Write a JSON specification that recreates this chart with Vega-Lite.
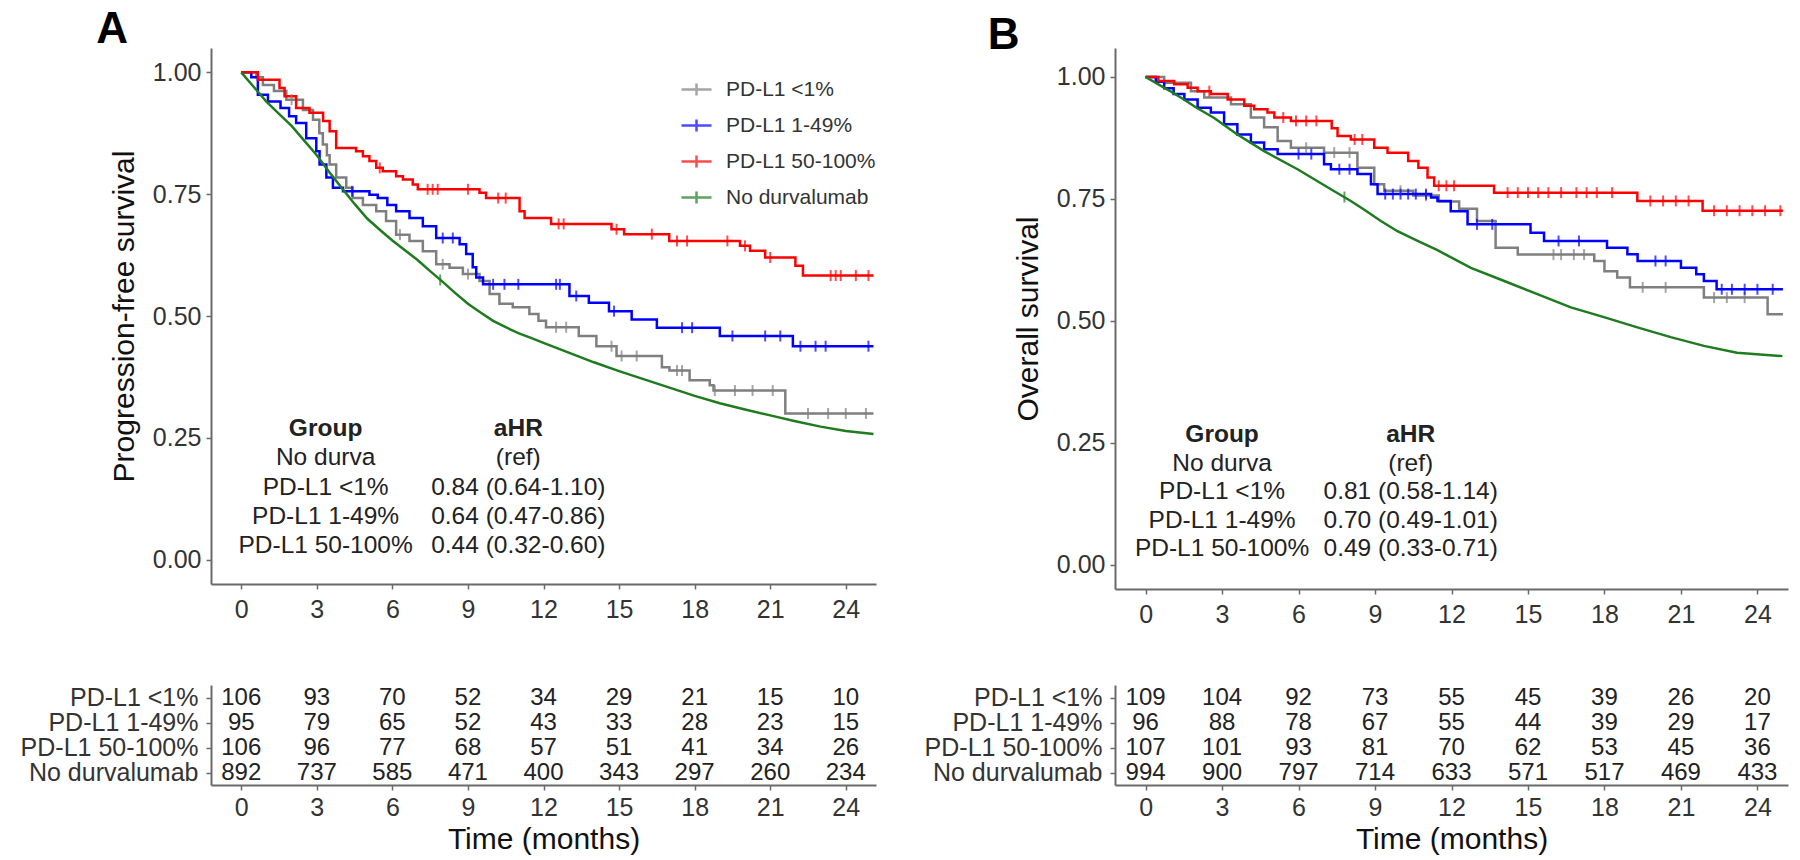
{
  "$schema": "https://vega.github.io/schema/vega-lite/v6.json",
  "background": "white",
  "padding": {"left": 20, "top": 7, "right": 5, "bottom": 3},
  "config": {
    "font": "Liberation Sans",
    "view": {"stroke": null},
    "axis": {"labelFont": "Liberation Sans", "titleFont": "Liberation Sans", "labelFontSize": 25, "titleFontSize": 30, "labelColor": "#333333", "titleColor": "#111111", "titleFontWeight": "normal", "domainColor": "#6a6a6a", "tickColor": "#6a6a6a", "domainWidth": 2, "tickWidth": 1.5, "tickSize": 5, "labelPadding": 5, "grid": false, "labelOverlap": false, "labelLimit": 400},
    "legend": {"padding": 0, "symbolType": "M-1,0H1M0,-0.4V0.4", "symbolSize": 900, "symbolStrokeWidth": 2.5, "labelFont": "Liberation Sans", "labelFontSize": 21, "labelColor": "#333333", "rowPadding": 8, "labelOffset": 13, "labelLimit": 400}
  },
  "datasets": {
    "panels": [{"p": "A", "label": "A"}, {"p": "B", "label": "B"}],
    "km": [
      {"p":"A","g":"PD-L1 <1%","t":0,"s":1},{"p":"A","g":"PD-L1 <1%","t":0.6,"s":0.99},{"p":"A","g":"PD-L1 <1%","t":0.86,"s":0.974},{"p":"A","g":"PD-L1 <1%","t":1.3,"s":0.962},{"p":"A","g":"PD-L1 <1%","t":1.79,"s":0.944},{"p":"A","g":"PD-L1 <1%","t":2.45,"s":0.923},{"p":"A","g":"PD-L1 <1%","t":2.85,"s":0.903},{"p":"A","g":"PD-L1 <1%","t":3.1,"s":0.875},{"p":"A","g":"PD-L1 <1%","t":3.24,"s":0.852},{"p":"A","g":"PD-L1 <1%","t":3.4,"s":0.83},{"p":"A","g":"PD-L1 <1%","t":3.51,"s":0.811},{"p":"A","g":"PD-L1 <1%","t":3.77,"s":0.784},{"p":"A","g":"PD-L1 <1%","t":4.17,"s":0.763},{"p":"A","g":"PD-L1 <1%","t":4.43,"s":0.742},{"p":"A","g":"PD-L1 <1%","t":4.83,"s":0.728},{"p":"A","g":"PD-L1 <1%","t":5.36,"s":0.715},{"p":"A","g":"PD-L1 <1%","t":5.75,"s":0.695},{"p":"A","g":"PD-L1 <1%","t":6.15,"s":0.667},{"p":"A","g":"PD-L1 <1%","t":6.68,"s":0.654},{"p":"A","g":"PD-L1 <1%","t":7.21,"s":0.633},{"p":"A","g":"PD-L1 <1%","t":7.74,"s":0.606},{"p":"A","g":"PD-L1 <1%","t":8.27,"s":0.599},{"p":"A","g":"PD-L1 <1%","t":8.8,"s":0.586},{"p":"A","g":"PD-L1 <1%","t":9.46,"s":0.572},{"p":"A","g":"PD-L1 <1%","t":9.86,"s":0.545},{"p":"A","g":"PD-L1 <1%","t":10.25,"s":0.525},{"p":"A","g":"PD-L1 <1%","t":10.78,"s":0.518},{"p":"A","g":"PD-L1 <1%","t":11.44,"s":0.504},{"p":"A","g":"PD-L1 <1%","t":11.8,"s":0.49},{"p":"A","g":"PD-L1 <1%","t":12.1,"s":0.477},{"p":"A","g":"PD-L1 <1%","t":13.4,"s":0.459},{"p":"A","g":"PD-L1 <1%","t":14.1,"s":0.438},{"p":"A","g":"PD-L1 <1%","t":14.9,"s":0.418},{"p":"A","g":"PD-L1 <1%","t":16.7,"s":0.395},{"p":"A","g":"PD-L1 <1%","t":17.0,"s":0.388},{"p":"A","g":"PD-L1 <1%","t":17.8,"s":0.368},{"p":"A","g":"PD-L1 <1%","t":18.6,"s":0.358},{"p":"A","g":"PD-L1 <1%","t":18.75,"s":0.347},{"p":"A","g":"PD-L1 <1%","t":21.6,"s":0.3},{"p":"A","g":"PD-L1 <1%","t":25.1,"s":0.3},
      {"p":"A","g":"PD-L1 1-49%","t":0,"s":1},{"p":"A","g":"PD-L1 1-49%","t":0.4,"s":0.99},{"p":"A","g":"PD-L1 1-49%","t":0.66,"s":0.954},{"p":"A","g":"PD-L1 1-49%","t":1.06,"s":0.94},{"p":"A","g":"PD-L1 1-49%","t":1.56,"s":0.927},{"p":"A","g":"PD-L1 1-49%","t":1.9,"s":0.91},{"p":"A","g":"PD-L1 1-49%","t":2.18,"s":0.896},{"p":"A","g":"PD-L1 1-49%","t":2.58,"s":0.865},{"p":"A","g":"PD-L1 1-49%","t":2.98,"s":0.838},{"p":"A","g":"PD-L1 1-49%","t":3.11,"s":0.811},{"p":"A","g":"PD-L1 1-49%","t":3.38,"s":0.784},{"p":"A","g":"PD-L1 1-49%","t":3.64,"s":0.763},{"p":"A","g":"PD-L1 1-49%","t":4.04,"s":0.756},{"p":"A","g":"PD-L1 1-49%","t":5.09,"s":0.749},{"p":"A","g":"PD-L1 1-49%","t":5.42,"s":0.742},{"p":"A","g":"PD-L1 1-49%","t":5.8,"s":0.728},{"p":"A","g":"PD-L1 1-49%","t":6.15,"s":0.715},{"p":"A","g":"PD-L1 1-49%","t":6.68,"s":0.701},{"p":"A","g":"PD-L1 1-49%","t":7.21,"s":0.684},{"p":"A","g":"PD-L1 1-49%","t":7.74,"s":0.66},{"p":"A","g":"PD-L1 1-49%","t":8.67,"s":0.647},{"p":"A","g":"PD-L1 1-49%","t":8.93,"s":0.627},{"p":"A","g":"PD-L1 1-49%","t":9.19,"s":0.6},{"p":"A","g":"PD-L1 1-49%","t":9.33,"s":0.579},{"p":"A","g":"PD-L1 1-49%","t":9.6,"s":0.565},{"p":"A","g":"PD-L1 1-49%","t":13.03,"s":0.541},{"p":"A","g":"PD-L1 1-49%","t":13.8,"s":0.527},{"p":"A","g":"PD-L1 1-49%","t":14.6,"s":0.51},{"p":"A","g":"PD-L1 1-49%","t":15.5,"s":0.493},{"p":"A","g":"PD-L1 1-49%","t":16.5,"s":0.476},{"p":"A","g":"PD-L1 1-49%","t":19.0,"s":0.459},{"p":"A","g":"PD-L1 1-49%","t":21.9,"s":0.438},{"p":"A","g":"PD-L1 1-49%","t":25.1,"s":0.438},
      {"p":"A","g":"PD-L1 50-100%","t":0,"s":1},{"p":"A","g":"PD-L1 50-100%","t":0.66,"s":0.985},{"p":"A","g":"PD-L1 50-100%","t":1.52,"s":0.968},{"p":"A","g":"PD-L1 50-100%","t":1.72,"s":0.951},{"p":"A","g":"PD-L1 50-100%","t":2.18,"s":0.927},{"p":"A","g":"PD-L1 50-100%","t":2.71,"s":0.917},{"p":"A","g":"PD-L1 50-100%","t":3.25,"s":0.9},{"p":"A","g":"PD-L1 50-100%","t":3.51,"s":0.879},{"p":"A","g":"PD-L1 50-100%","t":3.77,"s":0.845},{"p":"A","g":"PD-L1 50-100%","t":4.56,"s":0.838},{"p":"A","g":"PD-L1 50-100%","t":4.83,"s":0.828},{"p":"A","g":"PD-L1 50-100%","t":5.09,"s":0.818},{"p":"A","g":"PD-L1 50-100%","t":5.36,"s":0.804},{"p":"A","g":"PD-L1 50-100%","t":5.62,"s":0.797},{"p":"A","g":"PD-L1 50-100%","t":6.15,"s":0.787},{"p":"A","g":"PD-L1 50-100%","t":6.42,"s":0.78},{"p":"A","g":"PD-L1 50-100%","t":6.81,"s":0.77},{"p":"A","g":"PD-L1 50-100%","t":7.01,"s":0.76},{"p":"A","g":"PD-L1 50-100%","t":9.46,"s":0.753},{"p":"A","g":"PD-L1 50-100%","t":9.72,"s":0.742},{"p":"A","g":"PD-L1 50-100%","t":11.05,"s":0.715},{"p":"A","g":"PD-L1 50-100%","t":11.25,"s":0.701},{"p":"A","g":"PD-L1 50-100%","t":12.3,"s":0.689},{"p":"A","g":"PD-L1 50-100%","t":14.7,"s":0.678},{"p":"A","g":"PD-L1 50-100%","t":15.2,"s":0.668},{"p":"A","g":"PD-L1 50-100%","t":16.99,"s":0.654},{"p":"A","g":"PD-L1 50-100%","t":19.8,"s":0.644},{"p":"A","g":"PD-L1 50-100%","t":20.2,"s":0.634},{"p":"A","g":"PD-L1 50-100%","t":20.8,"s":0.62},{"p":"A","g":"PD-L1 50-100%","t":22.0,"s":0.603},{"p":"A","g":"PD-L1 50-100%","t":22.3,"s":0.583},{"p":"A","g":"PD-L1 50-100%","t":25.1,"s":0.583},
      {"p":"A","g":"No durvalumab","t":0,"s":1},{"p":"A","g":"No durvalumab","t":0.5,"s":0.97},{"p":"A","g":"No durvalumab","t":1,"s":0.94},{"p":"A","g":"No durvalumab","t":1.5,"s":0.915},{"p":"A","g":"No durvalumab","t":2,"s":0.89},{"p":"A","g":"No durvalumab","t":2.5,"s":0.86},{"p":"A","g":"No durvalumab","t":3,"s":0.83},{"p":"A","g":"No durvalumab","t":3.5,"s":0.795},{"p":"A","g":"No durvalumab","t":4,"s":0.762},{"p":"A","g":"No durvalumab","t":4.5,"s":0.73},{"p":"A","g":"No durvalumab","t":5,"s":0.7},{"p":"A","g":"No durvalumab","t":5.5,"s":0.677},{"p":"A","g":"No durvalumab","t":6,"s":0.655},{"p":"A","g":"No durvalumab","t":6.5,"s":0.635},{"p":"A","g":"No durvalumab","t":7,"s":0.615},{"p":"A","g":"No durvalumab","t":7.5,"s":0.592},{"p":"A","g":"No durvalumab","t":8,"s":0.57},{"p":"A","g":"No durvalumab","t":8.5,"s":0.547},{"p":"A","g":"No durvalumab","t":9,"s":0.525},{"p":"A","g":"No durvalumab","t":9.5,"s":0.507},{"p":"A","g":"No durvalumab","t":10,"s":0.49},{"p":"A","g":"No durvalumab","t":10.5,"s":0.477},{"p":"A","g":"No durvalumab","t":11,"s":0.465},{"p":"A","g":"No durvalumab","t":11.5,"s":0.455},{"p":"A","g":"No durvalumab","t":12,"s":0.445},{"p":"A","g":"No durvalumab","t":13,"s":0.425},{"p":"A","g":"No durvalumab","t":14,"s":0.405},{"p":"A","g":"No durvalumab","t":15,"s":0.387},{"p":"A","g":"No durvalumab","t":16,"s":0.37},{"p":"A","g":"No durvalumab","t":17,"s":0.353},{"p":"A","g":"No durvalumab","t":18,"s":0.336},{"p":"A","g":"No durvalumab","t":19,"s":0.321},{"p":"A","g":"No durvalumab","t":20,"s":0.308},{"p":"A","g":"No durvalumab","t":21,"s":0.296},{"p":"A","g":"No durvalumab","t":22,"s":0.284},{"p":"A","g":"No durvalumab","t":23,"s":0.273},{"p":"A","g":"No durvalumab","t":24,"s":0.264},{"p":"A","g":"No durvalumab","t":25.1,"s":0.258},
      {"p":"B","g":"PD-L1 <1%","t":0,"s":1},{"p":"B","g":"PD-L1 <1%","t":0.73,"s":0.988},{"p":"B","g":"PD-L1 <1%","t":1.78,"s":0.971},{"p":"B","g":"PD-L1 <1%","t":2.3,"s":0.958},{"p":"B","g":"PD-L1 <1%","t":3.35,"s":0.944},{"p":"B","g":"PD-L1 <1%","t":4.13,"s":0.917},{"p":"B","g":"PD-L1 <1%","t":4.65,"s":0.897},{"p":"B","g":"PD-L1 <1%","t":5.18,"s":0.869},{"p":"B","g":"PD-L1 <1%","t":5.7,"s":0.855},{"p":"B","g":"PD-L1 <1%","t":7.0,"s":0.845},{"p":"B","g":"PD-L1 <1%","t":8.31,"s":0.814},{"p":"B","g":"PD-L1 <1%","t":8.97,"s":0.78},{"p":"B","g":"PD-L1 <1%","t":9.36,"s":0.767},{"p":"B","g":"PD-L1 <1%","t":10.5,"s":0.757},{"p":"B","g":"PD-L1 <1%","t":11.5,"s":0.745},{"p":"B","g":"PD-L1 <1%","t":12.3,"s":0.73},{"p":"B","g":"PD-L1 <1%","t":13.0,"s":0.705},{"p":"B","g":"PD-L1 <1%","t":13.73,"s":0.65},{"p":"B","g":"PD-L1 <1%","t":14.6,"s":0.636},{"p":"B","g":"PD-L1 <1%","t":17.6,"s":0.623},{"p":"B","g":"PD-L1 <1%","t":18.0,"s":0.602},{"p":"B","g":"PD-L1 <1%","t":18.5,"s":0.589},{"p":"B","g":"PD-L1 <1%","t":19.0,"s":0.569},{"p":"B","g":"PD-L1 <1%","t":21.9,"s":0.548},{"p":"B","g":"PD-L1 <1%","t":24.4,"s":0.514},{"p":"B","g":"PD-L1 <1%","t":25.0,"s":0.514},
      {"p":"B","g":"PD-L1 1-49%","t":0,"s":1},{"p":"B","g":"PD-L1 1-49%","t":0.4,"s":0.99},{"p":"B","g":"PD-L1 1-49%","t":0.73,"s":0.977},{"p":"B","g":"PD-L1 1-49%","t":1.1,"s":0.965},{"p":"B","g":"PD-L1 1-49%","t":1.52,"s":0.954},{"p":"B","g":"PD-L1 1-49%","t":2.04,"s":0.937},{"p":"B","g":"PD-L1 1-49%","t":2.56,"s":0.927},{"p":"B","g":"PD-L1 1-49%","t":3.08,"s":0.903},{"p":"B","g":"PD-L1 1-49%","t":3.6,"s":0.882},{"p":"B","g":"PD-L1 1-49%","t":4.13,"s":0.866},{"p":"B","g":"PD-L1 1-49%","t":4.65,"s":0.852},{"p":"B","g":"PD-L1 1-49%","t":5.18,"s":0.842},{"p":"B","g":"PD-L1 1-49%","t":7.0,"s":0.821},{"p":"B","g":"PD-L1 1-49%","t":7.27,"s":0.811},{"p":"B","g":"PD-L1 1-49%","t":8.31,"s":0.801},{"p":"B","g":"PD-L1 1-49%","t":8.84,"s":0.78},{"p":"B","g":"PD-L1 1-49%","t":9.1,"s":0.76},{"p":"B","g":"PD-L1 1-49%","t":11.2,"s":0.753},{"p":"B","g":"PD-L1 1-49%","t":11.45,"s":0.746},{"p":"B","g":"PD-L1 1-49%","t":11.97,"s":0.725},{"p":"B","g":"PD-L1 1-49%","t":12.63,"s":0.698},{"p":"B","g":"PD-L1 1-49%","t":15.1,"s":0.681},{"p":"B","g":"PD-L1 1-49%","t":15.63,"s":0.664},{"p":"B","g":"PD-L1 1-49%","t":18.1,"s":0.65},{"p":"B","g":"PD-L1 1-49%","t":18.9,"s":0.637},{"p":"B","g":"PD-L1 1-49%","t":19.3,"s":0.623},{"p":"B","g":"PD-L1 1-49%","t":21.0,"s":0.609},{"p":"B","g":"PD-L1 1-49%","t":21.6,"s":0.596},{"p":"B","g":"PD-L1 1-49%","t":21.9,"s":0.582},{"p":"B","g":"PD-L1 1-49%","t":22.4,"s":0.565},{"p":"B","g":"PD-L1 1-49%","t":25.0,"s":0.565},
      {"p":"B","g":"PD-L1 50-100%","t":0,"s":1},{"p":"B","g":"PD-L1 50-100%","t":0.5,"s":0.992},{"p":"B","g":"PD-L1 50-100%","t":1.12,"s":0.985},{"p":"B","g":"PD-L1 50-100%","t":1.65,"s":0.978},{"p":"B","g":"PD-L1 50-100%","t":2.04,"s":0.971},{"p":"B","g":"PD-L1 50-100%","t":2.56,"s":0.965},{"p":"B","g":"PD-L1 50-100%","t":3.22,"s":0.954},{"p":"B","g":"PD-L1 50-100%","t":3.87,"s":0.941},{"p":"B","g":"PD-L1 50-100%","t":4.26,"s":0.934},{"p":"B","g":"PD-L1 50-100%","t":4.78,"s":0.927},{"p":"B","g":"PD-L1 50-100%","t":5.05,"s":0.917},{"p":"B","g":"PD-L1 50-100%","t":5.7,"s":0.91},{"p":"B","g":"PD-L1 50-100%","t":7.3,"s":0.895},{"p":"B","g":"PD-L1 50-100%","t":7.53,"s":0.879},{"p":"B","g":"PD-L1 50-100%","t":8.05,"s":0.872},{"p":"B","g":"PD-L1 50-100%","t":8.97,"s":0.855},{"p":"B","g":"PD-L1 50-100%","t":9.49,"s":0.845},{"p":"B","g":"PD-L1 50-100%","t":10.3,"s":0.828},{"p":"B","g":"PD-L1 50-100%","t":10.7,"s":0.814},{"p":"B","g":"PD-L1 50-100%","t":11.06,"s":0.794},{"p":"B","g":"PD-L1 50-100%","t":11.32,"s":0.777},{"p":"B","g":"PD-L1 50-100%","t":13.67,"s":0.763},{"p":"B","g":"PD-L1 50-100%","t":19.29,"s":0.746},{"p":"B","g":"PD-L1 50-100%","t":21.85,"s":0.726},{"p":"B","g":"PD-L1 50-100%","t":25.0,"s":0.726},
      {"p":"B","g":"No durvalumab","t":0,"s":1},{"p":"B","g":"No durvalumab","t":0.5,"s":0.985},{"p":"B","g":"No durvalumab","t":1,"s":0.97},{"p":"B","g":"No durvalumab","t":1.38,"s":0.958},{"p":"B","g":"No durvalumab","t":2,"s":0.937},{"p":"B","g":"No durvalumab","t":2.69,"s":0.916},{"p":"B","g":"No durvalumab","t":3.6,"s":0.882},{"p":"B","g":"No durvalumab","t":4.65,"s":0.848},{"p":"B","g":"No durvalumab","t":5.96,"s":0.811},{"p":"B","g":"No durvalumab","t":7.27,"s":0.77},{"p":"B","g":"No durvalumab","t":8.05,"s":0.746},{"p":"B","g":"No durvalumab","t":8.58,"s":0.728},{"p":"B","g":"No durvalumab","t":9.23,"s":0.705},{"p":"B","g":"No durvalumab","t":9.88,"s":0.684},{"p":"B","g":"No durvalumab","t":10.67,"s":0.664},{"p":"B","g":"No durvalumab","t":11.45,"s":0.645},{"p":"B","g":"No durvalumab","t":12.76,"s":0.609},{"p":"B","g":"No durvalumab","t":14.07,"s":0.582},{"p":"B","g":"No durvalumab","t":15.37,"s":0.555},{"p":"B","g":"No durvalumab","t":16.68,"s":0.528},{"p":"B","g":"No durvalumab","t":17.98,"s":0.508},{"p":"B","g":"No durvalumab","t":19.29,"s":0.487},{"p":"B","g":"No durvalumab","t":20.6,"s":0.467},{"p":"B","g":"No durvalumab","t":21.9,"s":0.449},{"p":"B","g":"No durvalumab","t":23.2,"s":0.435},{"p":"B","g":"No durvalumab","t":24.98,"s":0.428}
    ],
    "cens": [
      {"p":"A","g":"PD-L1 <1%","t":2.0,"s":0.944},{"p":"A","g":"PD-L1 <1%","t":6.3,"s":0.667},{"p":"A","g":"PD-L1 <1%","t":8.0,"s":0.606},{"p":"A","g":"PD-L1 <1%","t":9.0,"s":0.586},{"p":"A","g":"PD-L1 <1%","t":12.5,"s":0.477},{"p":"A","g":"PD-L1 <1%","t":12.9,"s":0.477},{"p":"A","g":"PD-L1 <1%","t":14.7,"s":0.438},{"p":"A","g":"PD-L1 <1%","t":15.1,"s":0.418},{"p":"A","g":"PD-L1 <1%","t":15.7,"s":0.418},{"p":"A","g":"PD-L1 <1%","t":17.3,"s":0.388},{"p":"A","g":"PD-L1 <1%","t":17.5,"s":0.388},{"p":"A","g":"PD-L1 <1%","t":18.8,"s":0.347},{"p":"A","g":"PD-L1 <1%","t":19.6,"s":0.347},{"p":"A","g":"PD-L1 <1%","t":20.3,"s":0.347},{"p":"A","g":"PD-L1 <1%","t":21.1,"s":0.347},{"p":"A","g":"PD-L1 <1%","t":22.5,"s":0.3},{"p":"A","g":"PD-L1 <1%","t":23.3,"s":0.3},{"p":"A","g":"PD-L1 <1%","t":24.0,"s":0.3},{"p":"A","g":"PD-L1 <1%","t":24.8,"s":0.3},
      {"p":"A","g":"PD-L1 1-49%","t":4.4,"s":0.756},{"p":"A","g":"PD-L1 1-49%","t":8.0,"s":0.66},{"p":"A","g":"PD-L1 1-49%","t":8.4,"s":0.66},{"p":"A","g":"PD-L1 1-49%","t":10.0,"s":0.565},{"p":"A","g":"PD-L1 1-49%","t":10.45,"s":0.565},{"p":"A","g":"PD-L1 1-49%","t":11.0,"s":0.565},{"p":"A","g":"PD-L1 1-49%","t":12.5,"s":0.565},{"p":"A","g":"PD-L1 1-49%","t":12.65,"s":0.565},{"p":"A","g":"PD-L1 1-49%","t":13.3,"s":0.541},{"p":"A","g":"PD-L1 1-49%","t":14.8,"s":0.51},{"p":"A","g":"PD-L1 1-49%","t":17.5,"s":0.476},{"p":"A","g":"PD-L1 1-49%","t":17.9,"s":0.476},{"p":"A","g":"PD-L1 1-49%","t":19.5,"s":0.459},{"p":"A","g":"PD-L1 1-49%","t":20.8,"s":0.459},{"p":"A","g":"PD-L1 1-49%","t":21.4,"s":0.459},{"p":"A","g":"PD-L1 1-49%","t":22.2,"s":0.438},{"p":"A","g":"PD-L1 1-49%","t":22.8,"s":0.438},{"p":"A","g":"PD-L1 1-49%","t":23.2,"s":0.438},{"p":"A","g":"PD-L1 1-49%","t":24.9,"s":0.438},
      {"p":"A","g":"PD-L1 50-100%","t":5.5,"s":0.804},{"p":"A","g":"PD-L1 50-100%","t":7.4,"s":0.76},{"p":"A","g":"PD-L1 50-100%","t":7.6,"s":0.76},{"p":"A","g":"PD-L1 50-100%","t":7.8,"s":0.76},{"p":"A","g":"PD-L1 50-100%","t":9.0,"s":0.76},{"p":"A","g":"PD-L1 50-100%","t":10.2,"s":0.742},{"p":"A","g":"PD-L1 50-100%","t":10.5,"s":0.742},{"p":"A","g":"PD-L1 50-100%","t":12.6,"s":0.689},{"p":"A","g":"PD-L1 50-100%","t":12.8,"s":0.689},{"p":"A","g":"PD-L1 50-100%","t":14.9,"s":0.678},{"p":"A","g":"PD-L1 50-100%","t":16.3,"s":0.668},{"p":"A","g":"PD-L1 50-100%","t":17.3,"s":0.654},{"p":"A","g":"PD-L1 50-100%","t":17.7,"s":0.654},{"p":"A","g":"PD-L1 50-100%","t":19.3,"s":0.654},{"p":"A","g":"PD-L1 50-100%","t":20.0,"s":0.644},{"p":"A","g":"PD-L1 50-100%","t":21.0,"s":0.62},{"p":"A","g":"PD-L1 50-100%","t":23.4,"s":0.583},{"p":"A","g":"PD-L1 50-100%","t":23.6,"s":0.583},{"p":"A","g":"PD-L1 50-100%","t":23.8,"s":0.583},{"p":"A","g":"PD-L1 50-100%","t":24.4,"s":0.583},{"p":"A","g":"PD-L1 50-100%","t":24.9,"s":0.583},
      {"p":"A","g":"No durvalumab","t":7.9,"s":0.574},
      {"p":"B","g":"PD-L1 <1%","t":6.3,"s":0.855},{"p":"B","g":"PD-L1 <1%","t":7.4,"s":0.845},{"p":"B","g":"PD-L1 <1%","t":8.0,"s":0.845},{"p":"B","g":"PD-L1 <1%","t":10.0,"s":0.767},{"p":"B","g":"PD-L1 <1%","t":11.0,"s":0.757},{"p":"B","g":"PD-L1 <1%","t":16.0,"s":0.636},{"p":"B","g":"PD-L1 <1%","t":16.3,"s":0.636},{"p":"B","g":"PD-L1 <1%","t":16.8,"s":0.636},{"p":"B","g":"PD-L1 <1%","t":17.2,"s":0.636},{"p":"B","g":"PD-L1 <1%","t":19.5,"s":0.569},{"p":"B","g":"PD-L1 <1%","t":20.4,"s":0.569},{"p":"B","g":"PD-L1 <1%","t":22.3,"s":0.548},{"p":"B","g":"PD-L1 <1%","t":22.8,"s":0.548},{"p":"B","g":"PD-L1 <1%","t":23.5,"s":0.548},
      {"p":"B","g":"PD-L1 1-49%","t":6.0,"s":0.842},{"p":"B","g":"PD-L1 1-49%","t":6.5,"s":0.842},{"p":"B","g":"PD-L1 1-49%","t":7.6,"s":0.811},{"p":"B","g":"PD-L1 1-49%","t":8.0,"s":0.811},{"p":"B","g":"PD-L1 1-49%","t":9.4,"s":0.76},{"p":"B","g":"PD-L1 1-49%","t":9.7,"s":0.76},{"p":"B","g":"PD-L1 1-49%","t":10.0,"s":0.76},{"p":"B","g":"PD-L1 1-49%","t":10.3,"s":0.76},{"p":"B","g":"PD-L1 1-49%","t":10.6,"s":0.76},{"p":"B","g":"PD-L1 1-49%","t":11.0,"s":0.76},{"p":"B","g":"PD-L1 1-49%","t":13.0,"s":0.698},{"p":"B","g":"PD-L1 1-49%","t":13.6,"s":0.698},{"p":"B","g":"PD-L1 1-49%","t":16.2,"s":0.664},{"p":"B","g":"PD-L1 1-49%","t":17.0,"s":0.664},{"p":"B","g":"PD-L1 1-49%","t":20.0,"s":0.623},{"p":"B","g":"PD-L1 1-49%","t":20.4,"s":0.623},{"p":"B","g":"PD-L1 1-49%","t":22.6,"s":0.565},{"p":"B","g":"PD-L1 1-49%","t":23.0,"s":0.565},{"p":"B","g":"PD-L1 1-49%","t":23.5,"s":0.565},{"p":"B","g":"PD-L1 1-49%","t":24.0,"s":0.565},{"p":"B","g":"PD-L1 1-49%","t":24.6,"s":0.565},
      {"p":"B","g":"PD-L1 50-100%","t":2.5,"s":0.971},{"p":"B","g":"PD-L1 50-100%","t":5.4,"s":0.917},{"p":"B","g":"PD-L1 50-100%","t":5.9,"s":0.91},{"p":"B","g":"PD-L1 50-100%","t":6.3,"s":0.91},{"p":"B","g":"PD-L1 50-100%","t":6.7,"s":0.91},{"p":"B","g":"PD-L1 50-100%","t":8.2,"s":0.872},{"p":"B","g":"PD-L1 50-100%","t":8.5,"s":0.872},{"p":"B","g":"PD-L1 50-100%","t":11.5,"s":0.777},{"p":"B","g":"PD-L1 50-100%","t":11.8,"s":0.777},{"p":"B","g":"PD-L1 50-100%","t":12.1,"s":0.777},{"p":"B","g":"PD-L1 50-100%","t":14.2,"s":0.763},{"p":"B","g":"PD-L1 50-100%","t":14.6,"s":0.763},{"p":"B","g":"PD-L1 50-100%","t":15.0,"s":0.763},{"p":"B","g":"PD-L1 50-100%","t":15.4,"s":0.763},{"p":"B","g":"PD-L1 50-100%","t":15.8,"s":0.763},{"p":"B","g":"PD-L1 50-100%","t":16.3,"s":0.763},{"p":"B","g":"PD-L1 50-100%","t":16.9,"s":0.763},{"p":"B","g":"PD-L1 50-100%","t":17.3,"s":0.763},{"p":"B","g":"PD-L1 50-100%","t":17.7,"s":0.763},{"p":"B","g":"PD-L1 50-100%","t":18.3,"s":0.763},{"p":"B","g":"PD-L1 50-100%","t":19.8,"s":0.746},{"p":"B","g":"PD-L1 50-100%","t":20.3,"s":0.746},{"p":"B","g":"PD-L1 50-100%","t":20.8,"s":0.746},{"p":"B","g":"PD-L1 50-100%","t":21.3,"s":0.746},{"p":"B","g":"PD-L1 50-100%","t":22.3,"s":0.726},{"p":"B","g":"PD-L1 50-100%","t":22.8,"s":0.726},{"p":"B","g":"PD-L1 50-100%","t":23.3,"s":0.726},{"p":"B","g":"PD-L1 50-100%","t":23.8,"s":0.726},{"p":"B","g":"PD-L1 50-100%","t":24.3,"s":0.726},{"p":"B","g":"PD-L1 50-100%","t":24.9,"s":0.726},
      {"p":"B","g":"No durvalumab","t":7.8,"s":0.754}
    ],
    "risk": [
      {"p":"A","g":"PD-L1 <1%","t":0,"n":106},{"p":"A","g":"PD-L1 <1%","t":3,"n":93},{"p":"A","g":"PD-L1 <1%","t":6,"n":70},{"p":"A","g":"PD-L1 <1%","t":9,"n":52},{"p":"A","g":"PD-L1 <1%","t":12,"n":34},{"p":"A","g":"PD-L1 <1%","t":15,"n":29},{"p":"A","g":"PD-L1 <1%","t":18,"n":21},{"p":"A","g":"PD-L1 <1%","t":21,"n":15},{"p":"A","g":"PD-L1 <1%","t":24,"n":10},
      {"p":"A","g":"PD-L1 1-49%","t":0,"n":95},{"p":"A","g":"PD-L1 1-49%","t":3,"n":79},{"p":"A","g":"PD-L1 1-49%","t":6,"n":65},{"p":"A","g":"PD-L1 1-49%","t":9,"n":52},{"p":"A","g":"PD-L1 1-49%","t":12,"n":43},{"p":"A","g":"PD-L1 1-49%","t":15,"n":33},{"p":"A","g":"PD-L1 1-49%","t":18,"n":28},{"p":"A","g":"PD-L1 1-49%","t":21,"n":23},{"p":"A","g":"PD-L1 1-49%","t":24,"n":15},
      {"p":"A","g":"PD-L1 50-100%","t":0,"n":106},{"p":"A","g":"PD-L1 50-100%","t":3,"n":96},{"p":"A","g":"PD-L1 50-100%","t":6,"n":77},{"p":"A","g":"PD-L1 50-100%","t":9,"n":68},{"p":"A","g":"PD-L1 50-100%","t":12,"n":57},{"p":"A","g":"PD-L1 50-100%","t":15,"n":51},{"p":"A","g":"PD-L1 50-100%","t":18,"n":41},{"p":"A","g":"PD-L1 50-100%","t":21,"n":34},{"p":"A","g":"PD-L1 50-100%","t":24,"n":26},
      {"p":"A","g":"No durvalumab","t":0,"n":892},{"p":"A","g":"No durvalumab","t":3,"n":737},{"p":"A","g":"No durvalumab","t":6,"n":585},{"p":"A","g":"No durvalumab","t":9,"n":471},{"p":"A","g":"No durvalumab","t":12,"n":400},{"p":"A","g":"No durvalumab","t":15,"n":343},{"p":"A","g":"No durvalumab","t":18,"n":297},{"p":"A","g":"No durvalumab","t":21,"n":260},{"p":"A","g":"No durvalumab","t":24,"n":234},
      {"p":"B","g":"PD-L1 <1%","t":0,"n":109},{"p":"B","g":"PD-L1 <1%","t":3,"n":104},{"p":"B","g":"PD-L1 <1%","t":6,"n":92},{"p":"B","g":"PD-L1 <1%","t":9,"n":73},{"p":"B","g":"PD-L1 <1%","t":12,"n":55},{"p":"B","g":"PD-L1 <1%","t":15,"n":45},{"p":"B","g":"PD-L1 <1%","t":18,"n":39},{"p":"B","g":"PD-L1 <1%","t":21,"n":26},{"p":"B","g":"PD-L1 <1%","t":24,"n":20},
      {"p":"B","g":"PD-L1 1-49%","t":0,"n":96},{"p":"B","g":"PD-L1 1-49%","t":3,"n":88},{"p":"B","g":"PD-L1 1-49%","t":6,"n":78},{"p":"B","g":"PD-L1 1-49%","t":9,"n":67},{"p":"B","g":"PD-L1 1-49%","t":12,"n":55},{"p":"B","g":"PD-L1 1-49%","t":15,"n":44},{"p":"B","g":"PD-L1 1-49%","t":18,"n":39},{"p":"B","g":"PD-L1 1-49%","t":21,"n":29},{"p":"B","g":"PD-L1 1-49%","t":24,"n":17},
      {"p":"B","g":"PD-L1 50-100%","t":0,"n":107},{"p":"B","g":"PD-L1 50-100%","t":3,"n":101},{"p":"B","g":"PD-L1 50-100%","t":6,"n":93},{"p":"B","g":"PD-L1 50-100%","t":9,"n":81},{"p":"B","g":"PD-L1 50-100%","t":12,"n":70},{"p":"B","g":"PD-L1 50-100%","t":15,"n":62},{"p":"B","g":"PD-L1 50-100%","t":18,"n":53},{"p":"B","g":"PD-L1 50-100%","t":21,"n":45},{"p":"B","g":"PD-L1 50-100%","t":24,"n":36},
      {"p":"B","g":"No durvalumab","t":0,"n":994},{"p":"B","g":"No durvalumab","t":3,"n":900},{"p":"B","g":"No durvalumab","t":6,"n":797},{"p":"B","g":"No durvalumab","t":9,"n":714},{"p":"B","g":"No durvalumab","t":12,"n":633},{"p":"B","g":"No durvalumab","t":15,"n":571},{"p":"B","g":"No durvalumab","t":18,"n":517},{"p":"B","g":"No durvalumab","t":21,"n":469},{"p":"B","g":"No durvalumab","t":24,"n":433}
    ],
    "hr": [
      {"p":"A","r":0,"grp":"Group","hr":"aHR"},{"p":"A","r":1,"grp":"No durva","hr":"(ref)"},{"p":"A","r":2,"grp":"PD-L1 <1%","hr":"0.84 (0.64-1.10)"},{"p":"A","r":3,"grp":"PD-L1 1-49%","hr":"0.64 (0.47-0.86)"},{"p":"A","r":4,"grp":"PD-L1 50-100%","hr":"0.44 (0.32-0.60)"},
      {"p":"B","r":0,"grp":"Group","hr":"aHR"},{"p":"B","r":1,"grp":"No durva","hr":"(ref)"},{"p":"B","r":2,"grp":"PD-L1 <1%","hr":"0.81 (0.58-1.14)"},{"p":"B","r":3,"grp":"PD-L1 1-49%","hr":"0.70 (0.49-1.01)"},{"p":"B","r":4,"grp":"PD-L1 50-100%","hr":"0.49 (0.33-0.71)"}
    ]
  },
  "concat": [
    {
      "width": 665, "height": 536,
      "layer": [
        {
          "data": {"name": "km"},
          "transform": [{"filter": "datum.p === 'A' && datum.g !== 'No durvalumab'"}],
          "mark": {"type": "line", "interpolate": "step-after", "strokeWidth": 2.5},
          "encoding": {
            "x": {"field": "t", "type": "quantitative", "scale": {"domain": [-1.2, 25.2], "nice": false, "zero": false}, "axis": {"values": [0,3,6,9,12,15,18,21,24], "title": null, "labelPadding": 8}},
            "y": {"field": "s", "type": "quantitative", "scale": {"domain": [-0.05, 1.05], "nice": false, "zero": false}, "axis": {"values": [0,0.25,0.5,0.75,1], "format": ".2f", "title": "Progression-free survival", "titlePadding": 13}},
            "color": {"field": "g", "type": "nominal", "scale": {"domain": ["PD-L1 <1%","PD-L1 1-49%","PD-L1 50-100%","No durvalumab"], "range": ["#7f7f7f","#0000ff","#ff0000","#1e7b1e"]}, "legend": {"orient": "none", "legendX": 469, "legendY": 25, "title": null}}
          }
        },
        {
          "data": {"name": "km"},
          "transform": [{"filter": "datum.p === 'A' && datum.g === 'No durvalumab'"}],
          "mark": {"type": "line", "strokeWidth": 2.5},
          "encoding": {
            "x": {"field": "t", "type": "quantitative"},
            "y": {"field": "s", "type": "quantitative", "scale": {"domain": [-0.05, 1.05], "nice": false, "zero": false}, "axis": null},
            "color": {"field": "g", "type": "nominal"}
          }
        },
        {
          "data": {"name": "cens"},
          "transform": [{"filter": "datum.p === 'A'"}],
          "mark": {"type": "tick", "orient": "vertical", "size": 11, "thickness": 2},
          "encoding": {
            "x": {"field": "t", "type": "quantitative"},
            "y": {"field": "s", "type": "quantitative", "scale": {"domain": [-0.05, 1.05], "nice": false, "zero": false}, "axis": null},
            "color": {"field": "g", "type": "nominal"}
          }
        },
        {
          "data": {"name": "hr"},
          "transform": [{"filter": "datum.p === 'A' && datum.r === 0"}],
          "mark": {"type": "text", "fontSize": 24.5, "fontWeight": "bold", "baseline": "middle", "align": "center", "color": "#222222"},
          "encoding": {"x": {"datum": 3.35, "type": "quantitative"}, "y": {"field": "r", "type": "quantitative", "scale": {"domain": [-13.03, 5.3], "reverse": true, "nice": false, "zero": false}, "axis": null}, "text": {"field": "grp"}}
        },
        {
          "data": {"name": "hr"},
          "transform": [{"filter": "datum.p === 'A' && datum.r === 0"}],
          "mark": {"type": "text", "fontSize": 24.5, "fontWeight": "bold", "baseline": "middle", "align": "center", "color": "#222222"},
          "encoding": {"x": {"datum": 11.0, "type": "quantitative"}, "y": {"field": "r", "type": "quantitative", "scale": {"domain": [-13.03, 5.3], "reverse": true, "nice": false, "zero": false}, "axis": null}, "text": {"field": "hr"}}
        },
        {
          "data": {"name": "hr"},
          "transform": [{"filter": "datum.p === 'A' && datum.r > 0"}],
          "mark": {"type": "text", "fontSize": 24.5, "baseline": "middle", "align": "center", "color": "#222222"},
          "encoding": {"x": {"datum": 3.35, "type": "quantitative"}, "y": {"field": "r", "type": "quantitative", "scale": {"domain": [-13.03, 5.3], "reverse": true, "nice": false, "zero": false}, "axis": null}, "text": {"field": "grp"}}
        },
        {
          "data": {"name": "hr"},
          "transform": [{"filter": "datum.p === 'A' && datum.r > 0"}],
          "mark": {"type": "text", "fontSize": 24.5, "baseline": "middle", "align": "center", "color": "#222222"},
          "encoding": {"x": {"datum": 11.0, "type": "quantitative"}, "y": {"field": "r", "type": "quantitative", "scale": {"domain": [-13.03, 5.3], "reverse": true, "nice": false, "zero": false}, "axis": null}, "text": {"field": "hr"}}
        },
        {
          "data": {"name": "panels"},
          "transform": [{"filter": "datum.p === 'A'"}],
          "mark": {"type": "text", "font": "Liberation Sans", "fontSize": 44, "fontWeight": "bold", "baseline": "middle", "align": "center", "color": "#000000"},
          "encoding": {"x": {"datum": -5.12, "type": "quantitative"}, "y": {"datum": 1.087, "type": "quantitative", "scale": {"domain": [-0.05, 1.05], "nice": false, "zero": false}, "axis": null}, "text": {"field": "label"}}
        }
      ],
      "resolve": {"scale": {"y": "independent"}}
    },
    {
      "width": 673, "height": 541,
      "layer": [
        {
          "data": {"name": "km"},
          "transform": [{"filter": "datum.p === 'B' && datum.g !== 'No durvalumab'"}],
          "mark": {"type": "line", "interpolate": "step-after", "strokeWidth": 2.5},
          "encoding": {
            "x": {"field": "t", "type": "quantitative", "scale": {"domain": [-1.2, 25.2], "nice": false, "zero": false}, "axis": {"values": [0,3,6,9,12,15,18,21,24], "title": null, "labelPadding": 8}},
            "y": {"field": "s", "type": "quantitative", "scale": {"domain": [-0.0492, 1.0594], "nice": false, "zero": false}, "axis": {"values": [0,0.25,0.5,0.75,1], "format": ".2f", "title": "Overall survival", "titlePadding": 13}},
            "color": {"field": "g", "type": "nominal", "scale": {"domain": ["PD-L1 <1%","PD-L1 1-49%","PD-L1 50-100%","No durvalumab"], "range": ["#7f7f7f","#0000ff","#ff0000","#1e7b1e"]}, "legend": null}
          }
        },
        {
          "data": {"name": "km"},
          "transform": [{"filter": "datum.p === 'B' && datum.g === 'No durvalumab'"}],
          "mark": {"type": "line", "strokeWidth": 2.5},
          "encoding": {
            "x": {"field": "t", "type": "quantitative"},
            "y": {"field": "s", "type": "quantitative", "scale": {"domain": [-0.0492, 1.0594], "nice": false, "zero": false}, "axis": null},
            "color": {"field": "g", "type": "nominal", "legend": null}
          }
        },
        {
          "data": {"name": "cens"},
          "transform": [{"filter": "datum.p === 'B'"}],
          "mark": {"type": "tick", "orient": "vertical", "size": 11, "thickness": 2},
          "encoding": {
            "x": {"field": "t", "type": "quantitative"},
            "y": {"field": "s", "type": "quantitative", "scale": {"domain": [-0.0492, 1.0594], "nice": false, "zero": false}, "axis": null},
            "color": {"field": "g", "type": "nominal", "legend": null}
          }
        },
        {
          "data": {"name": "hr"},
          "transform": [{"filter": "datum.p === 'B' && datum.r === 0"}],
          "mark": {"type": "text", "fontSize": 24.5, "fontWeight": "bold", "baseline": "middle", "align": "center", "color": "#222222"},
          "encoding": {"x": {"datum": 3.0, "type": "quantitative"}, "y": {"field": "r", "type": "quantitative", "scale": {"domain": [-13.58, 5.4], "reverse": true, "nice": false, "zero": false}, "axis": null}, "text": {"field": "grp"}}
        },
        {
          "data": {"name": "hr"},
          "transform": [{"filter": "datum.p === 'B' && datum.r === 0"}],
          "mark": {"type": "text", "fontSize": 24.5, "fontWeight": "bold", "baseline": "middle", "align": "center", "color": "#222222"},
          "encoding": {"x": {"datum": 10.4, "type": "quantitative"}, "y": {"field": "r", "type": "quantitative", "scale": {"domain": [-13.58, 5.4], "reverse": true, "nice": false, "zero": false}, "axis": null}, "text": {"field": "hr"}}
        },
        {
          "data": {"name": "hr"},
          "transform": [{"filter": "datum.p === 'B' && datum.r > 0"}],
          "mark": {"type": "text", "fontSize": 24.5, "baseline": "middle", "align": "center", "color": "#222222"},
          "encoding": {"x": {"datum": 3.0, "type": "quantitative"}, "y": {"field": "r", "type": "quantitative", "scale": {"domain": [-13.58, 5.4], "reverse": true, "nice": false, "zero": false}, "axis": null}, "text": {"field": "grp"}}
        },
        {
          "data": {"name": "hr"},
          "transform": [{"filter": "datum.p === 'B' && datum.r > 0"}],
          "mark": {"type": "text", "fontSize": 24.5, "baseline": "middle", "align": "center", "color": "#222222"},
          "encoding": {"x": {"datum": 10.4, "type": "quantitative"}, "y": {"field": "r", "type": "quantitative", "scale": {"domain": [-13.58, 5.4], "reverse": true, "nice": false, "zero": false}, "axis": null}, "text": {"field": "hr"}}
        },
        {
          "data": {"name": "panels"},
          "transform": [{"filter": "datum.p === 'B'"}],
          "mark": {"type": "text", "font": "Liberation Sans", "fontSize": 44, "fontWeight": "bold", "baseline": "middle", "align": "center", "color": "#000000"},
          "encoding": {"x": {"datum": -5.57, "type": "quantitative"}, "y": {"datum": 1.084, "type": "quantitative", "scale": {"domain": [-0.0492, 1.0594], "nice": false, "zero": false}, "axis": null}, "text": {"field": "label"}}
        }
      ],
      "resolve": {"scale": {"y": "independent"}}
    },
    {
      "width": 665, "height": 100,
      "data": {"name": "risk"},
      "transform": [{"filter": "datum.p === 'A'"}],
      "mark": {"type": "text", "fontSize": 24, "baseline": "middle", "align": "center", "color": "#222222"},
      "encoding": {
        "x": {"field": "t", "type": "quantitative", "scale": {"domain": [-1.2, 25.2], "nice": false, "zero": false}, "axis": {"values": [0,3,6,9,12,15,18,21,24], "title": "Time (months)", "titlePadding": 4}},
        "y": {"field": "g", "type": "nominal", "sort": ["PD-L1 <1%","PD-L1 1-49%","PD-L1 50-100%","No durvalumab"], "scale": {"type": "point", "padding": 0.5}, "axis": {"title": null, "labelFontSize": 25, "labelPadding": 8}},
        "text": {"field": "n", "type": "quantitative", "format": "d"}
      }
    },
    {
      "width": 673, "height": 100,
      "data": {"name": "risk"},
      "transform": [{"filter": "datum.p === 'B'"}],
      "mark": {"type": "text", "fontSize": 24, "baseline": "middle", "align": "center", "color": "#222222"},
      "encoding": {
        "x": {"field": "t", "type": "quantitative", "scale": {"domain": [-1.2, 25.2], "nice": false, "zero": false}, "axis": {"values": [0,3,6,9,12,15,18,21,24], "title": "Time (months)", "titlePadding": 4}},
        "y": {"field": "g", "type": "nominal", "sort": ["PD-L1 <1%","PD-L1 1-49%","PD-L1 50-100%","No durvalumab"], "scale": {"type": "point", "padding": 0.5}, "axis": {"title": null, "labelFontSize": 25, "labelPadding": 8}},
        "text": {"field": "n", "type": "quantitative", "format": "d"}
      }
    }
  ],
  "columns": 2,
  "spacing": {"row": 96, "column": 239},
  "bounds": "flush",
  "resolve": {"scale": {"x": "independent", "y": "independent", "color": "independent"}, "axis": {"x": "independent", "y": "independent"}, "legend": {"color": "independent"}}
}
